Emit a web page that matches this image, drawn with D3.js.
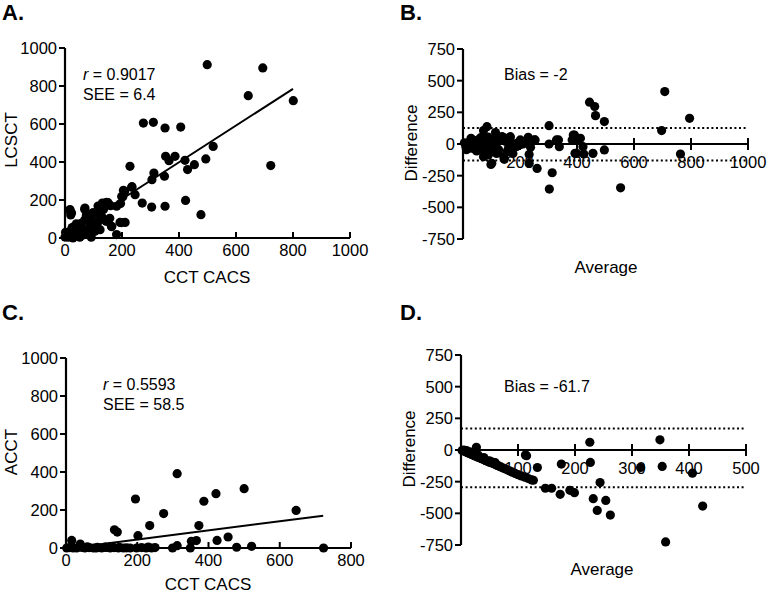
<!DOCTYPE html>
<html><head><meta charset="utf-8">
<script src="https://cdn.jsdelivr.net/npm/d3@7"></script>
<style>html,body{margin:0;padding:0;background:#fff}svg{display:block;font-family:"Liberation Sans",Arial,sans-serif}</style>
</head><body><svg id="c" width="768" height="595"></svg>
<script>
// Panel A: CCT CACS vs LCSCT
const pointsA = [[499,912],[694,895],[643,749],[801,723],[722,381],[520,482],[494,416],[454,386],[430,360],[421,409],[406,584],[351,579],[310,609],[275,605],[386,430],[353,430],[365,407],[312,342],[305,307],[349,325],[228,377],[271,184],[304,163],[351,167],[423,198],[477,123],[234,267],[246,228],[205,251],[199,219],[211,82],[193,82],[181,18],[164,61],[181,167],[195,181],[144,88],[146,188],[131,184],[117,140],[99,132],[94,96],[123,44],[111,70],[70,158],[18,149],[23,132],[235,270],[209,244],[203,217],[151,186],[139,182],[116,168],[69,151],[16,147],[20,121],[98,133],[122,121],[157,104],[198,81],[163,60],[92,104],[69,95],[57,77],[34,63],[22,42],[5,25],[46,33],[81,42],[104,60],[116,86],[87,68],[63,16],[40,11],[0,5],[11,4],[28,0],[52,4],[92,4],[2,30],[75,121],[35,20],[60,50],[45,45],[15,10],[30,35],[70,30],[105,35],[130,110],[135,150],[160,170],[100,80],[85,45],[50,25],[25,55],[10,15],[40,75],[120,145]];
const lineA = [[0,12],[800,785]];
const textA = ["r", " = 0.9017", "SEE = 6.4"];

// Panel B: Bland-Altman LCSCT
const pointsB = [[708,414],[795,203],[697,106],[763,-79],[553,-346],[444,330],[462,296],[465,224],[496,177],[496,-47],[456,-74],[302,145],[302,0],[313,-227],[303,-356],[328,32],[338,-21],[391,71],[383,32],[412,45],[398,-74],[421,-21],[424,-79],[260,-193],[232,-153],[232,-82],[237,-26],[225,32],[251,32],[201,32],[187,-21],[166,58],[137,58],[143,-100],[98,-161],[114,90],[84,137],[72,106],[72,-100],[141,53],[165,53],[188,5],[229,53],[253,32],[101,-152],[145,-121],[118,-74],[89,-87],[71,-47],[335,32],[387,71],[405,32],[393,-74],[5,10],[10,-20],[15,5],[20,-35],[25,20],[30,-10],[35,30],[40,-40],[45,15],[50,-25],[55,35],[60,-5],[65,25],[70,-30],[75,10],[80,40],[85,-15],[90,20],[95,-40],[100,5],[105,35],[110,-20],[120,15],[125,-45],[130,40],[12,-45],[28,45],[48,-55],[62,50],[88,55],[108,-60],[150,20],[170,0],[160,-30],[155,-60],[175,-75],[200,-5],[210,0]];
const limitsB = [126, -130];
const biasB = "Bias = -2";

// Panel C: CCT CACS vs ACCT
const pointsC = [[312,391],[195,258],[274,181],[235,118],[136,96],[144,84],[202,65],[387,246],[421,286],[500,312],[646,198],[373,118],[352,35],[366,39],[424,40],[455,58],[479,4],[521,9],[723,0],[312,12],[299,0],[349,0],[16,40],[40,21],[2,0],[10,2],[20,0],[30,0],[45,3],[53,0],[65,2],[77,0],[88,4],[100,0],[112,3],[124,0],[135,2],[147,0],[161,0],[180,0],[198,0],[212,2],[231,5],[250,2],[110,5],[125,8],[60,6],[85,0],[150,3],[170,1],[225,0],[240,0]];
const lineC = [[10,-1],[722,170]];
const textC = ["r", " = 0.5593", "SEE = 58.5"];

// Panel D: Bland-Altman ACCT
const pointsD = [[349,80],[226,61],[227,-98],[244,-257],[232,-384],[239,-477],[254,-398],[262,-514],[353,-130],[359,-726],[315,-138],[406,-183],[424,-443],[176,-111],[174,-350],[191,-318],[199,-337],[148,-302],[159,-302],[134,-138],[115,-45],[113,-40],[127,-239],[27,21],[2,-3],[5,-8],[8,-14],[10,-18],[13,-24],[15,-28],[18,-33],[20,-38],[23,-44],[25,-48],[28,-53],[30,-58],[33,-62],[35,-67],[38,-72],[40,-76],[43,-82],[45,-86],[48,-92],[50,-96],[53,-100],[56,-106],[60,-115],[63,-120],[66,-126],[70,-134],[74,-142],[78,-150],[82,-158],[86,-166],[90,-175],[95,-185],[100,-195],[106,-205],[112,-215],[118,-225],[124,-236],[50,-85],[55,-95],[60,-100],[20,-20],[15,-15],[5,0],[10,-5],[40,-60],[30,-40]];
const limitsD = [170, -295];
const biasD = "Bias = -61.7";

const ticksAx = [0,200,400,600,800,1000];
const ticksAy = [0,200,400,600,800,1000];
const ticksBx = [200,400,600,800,1000];
const ticksBy = [-750,-500,-250,0,250,500,750];
const ticksCx = [0,200,400,600,800];
const ticksCy = [0,200,400,600,800,1000];
const ticksDx = [100,200,300,400,500];
const ticksDy = [-750,-500,-250,0,250,500,750];

const svg = d3.select("#c");
const R = 4.6;

function yAxis(g, y, x0, ticks) {
  g.append("line").attr("x1", x0).attr("x2", x0).attr("y1", y(ticks[0])).attr("y2", y(ticks[ticks.length-1]))
    .attr("stroke","#000").attr("stroke-width",2.2);
  ticks.forEach(t => {
    g.append("line").attr("x1", x0-6).attr("x2", x0).attr("y1", y(t)).attr("y2", y(t)).attr("stroke","#000").attr("stroke-width",2);
    g.append("text").attr("x", x0-8).attr("y", y(t)).attr("dy","0.36em").attr("text-anchor","end")
      .attr("font-size",16.5).text(t);
  });
}

function scatterPanel(o) {
  const g = svg.append("g");
  const x = d3.scaleLinear().domain(o.xd).range(o.xr);
  const y = d3.scaleLinear().domain(o.yd).range(o.yr);
  g.append("line").attr("x1", x(o.xd[0])).attr("x2", x(o.xd[1])).attr("y1", y(0)).attr("y2", y(0)).attr("stroke","#000").attr("stroke-width",2.2);
  o.xt.forEach(t => {
    g.append("line").attr("x1", x(t)).attr("x2", x(t)).attr("y1", y(0)-6).attr("y2", y(0)).attr("stroke","#000").attr("stroke-width",2);
    g.append("text").attr("x", x(t)).attr("y", y(0)+18).attr("text-anchor","middle").attr("font-size",16.5).text(t);
  });
  yAxis(g, y, x(0), o.yt);
  g.append("line").attr("x1", x(o.line[0][0])).attr("y1", y(o.line[0][1])).attr("x2", x(o.line[1][0])).attr("y2", y(o.line[1][1]))
    .attr("stroke","#000").attr("stroke-width",2);
  g.selectAll("circle.p").data(o.pts).join("circle").attr("cx", d=>x(d[0])).attr("cy", d=>y(d[1])).attr("r", R).attr("fill","#000");
  const t = g.append("text").attr("x", o.tx).attr("y", o.ty).attr("font-size",16);
  t.append("tspan").attr("font-style","italic").text(o.txt[0]);
  t.append("tspan").text(o.txt[1]);
  g.append("text").attr("x", o.tx).attr("y", o.ty+20).attr("font-size",16).text(o.txt[2]);
  g.append("text").attr("x", o.xtx).attr("y", o.xty).attr("text-anchor","middle").attr("font-size",17).text(o.xl);
  g.append("text").attr("transform",`translate(${o.ylx},${o.yly}) rotate(-90)`).attr("text-anchor","middle").attr("dy","0.35em").attr("font-size",17).text(o.yl);
  g.append("text").attr("x", o.lx).attr("y", o.ly).attr("font-size",22).attr("font-weight","bold").text(o.letter);
}

function baPanel(o) {
  const g = svg.append("g");
  const x = d3.scaleLinear().domain(o.xd).range(o.xr);
  const y = d3.scaleLinear().domain(o.yd).range(o.yr);
  o.lim.forEach(l => {
    g.append("line").attr("x1", x(0)).attr("x2", x(o.xd[1])).attr("y1", y(l)).attr("y2", y(l))
      .attr("stroke","#000").attr("stroke-width",2).attr("stroke-dasharray","2,2.6");
  });
  g.append("line").attr("x1", x(0)).attr("x2", x(o.xd[1])).attr("y1", y(0)).attr("y2", y(0)).attr("stroke","#000").attr("stroke-width",2.2);
  o.xt.forEach(t => {
    g.append("line").attr("x1", x(t)).attr("x2", x(t)).attr("y1", y(0)-6).attr("y2", y(0)+6).attr("stroke","#000").attr("stroke-width",2);
    g.append("text").attr("x", x(t)).attr("y", y(0)+18).attr("dy","0.35em").attr("text-anchor","middle").attr("font-size",16.5).text(t);
  });
  yAxis(g, y, x(0), o.yt);
  g.selectAll("circle.p").data(o.pts).join("circle").attr("cx", d=>x(d[0])).attr("cy", d=>y(d[1])).attr("r", R).attr("fill","#000");
  g.append("text").attr("x", o.tx).attr("y", o.ty).attr("font-size",16).text(o.bias);
  g.append("text").attr("x", o.xtx).attr("y", o.xty).attr("text-anchor","middle").attr("font-size",17).text("Average");
  g.append("text").attr("transform",`translate(${o.ylx},${o.yly}) rotate(-90)`).attr("text-anchor","middle").attr("dy","0.35em").attr("font-size",17).text("Difference");
  g.append("text").attr("x", o.lx).attr("y", o.ly).attr("font-size",22).attr("font-weight","bold").text(o.letter);
}

scatterPanel({xd:[0,1000], xr:[65,350], yd:[0,1000], yr:[238,48], xt:ticksAx, yt:ticksAy, pts:pointsA, line:lineA,
  txt:textA, tx:83, ty:80, xl:"CCT CACS", xtx:207, xty:283, yl:"LCSCT", ylx:11, yly:140, letter:"A.", lx:2, ly:20});
baPanel({xd:[0,1000], xr:[463,748], yd:[-750,750], yr:[239,49], xt:ticksBx, yt:ticksBy, pts:pointsB, lim:limitsB,
  bias:biasB, tx:504, ty:80, xtx:606, xty:273, ylx:411, yly:143, letter:"B.", lx:400, ly:20});
scatterPanel({xd:[0,800], xr:[66,351], yd:[0,1000], yr:[548,358], xt:ticksCx, yt:ticksCy, pts:pointsC, line:lineC,
  txt:textC, tx:103, ty:390, xl:"CCT CACS", xtx:208, xty:590, yl:"ACCT", ylx:11, yly:452, letter:"C.", lx:2, ly:320});
baPanel({xd:[0,500], xr:[461,746], yd:[-750,750], yr:[545,355], xt:ticksDx, yt:ticksDy, pts:pointsD, lim:limitsD,
  bias:biasD, tx:504, ty:392, xtx:602, xty:575, ylx:409, yly:449, letter:"D.", lx:400, ly:320});
</script></body></html>
